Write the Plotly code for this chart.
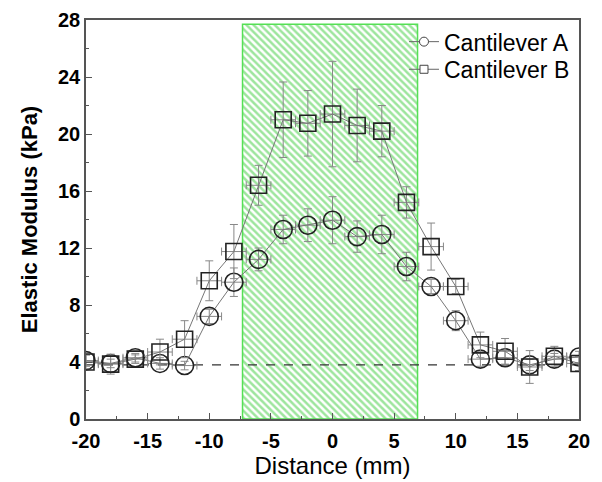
import plotly.graph_objects as go

distance = [-20, -18, -16, -14, -12, -10, -8, -6, -4, -2, 0, 2, 4, 6, 8, 10, 12, 14, 16, 18, 20]
mod_a = [4.1, 3.9, 4.3, 3.9, 3.75, 7.2, 9.6, 11.2, 13.3, 13.6, 13.95, 12.8, 12.95, 10.7, 9.3, 6.9, 4.2, 4.3, 3.8, 4.2, 4.35]
err_a = [0.4, 0.3, 0.3, 0.4, 0.3, 0.5, 1.0, 0.8, 1.0, 1.15, 1.65, 1.1, 1.35, 1.0, 0.5, 0.7, 0.5, 0.5, 0.4, 0.4, 0.4]
mod_b = [4.0, 3.85, 4.2, 4.7, 5.6, 9.7, 11.75, 16.4, 21.0, 20.75, 21.4, 20.6, 20.2, 15.2, 12.1, 9.3, 5.2, 4.75, 3.65, 4.4, 3.9]
err_b = [0.5, 0.7, 0.3, 0.9, 1.3, 1.4, 1.9, 1.4, 2.65, 2.3, 3.7, 2.55, 1.8, 1.1, 1.65, 0.5, 0.9, 0.9, 1.15, 0.7, 0.5]
err_x = [1.0] * len(distance)

region_x = [-7.3, 6.9]
region_top = 27.7
baseline = 3.8

x_ticks = [-20, -15, -10, -5, 0, 5, 10, 15, 20]
x_labels = ["-20", "-15", "-10", "-5", "0", "5", "10", "15", "20"]
y_ticks = [0, 4, 8, 12, 16, 20, 24, 28]
y_labels = ["0", "4", "8", "12", "16", "20", "24", "28"]

FONT = "Liberation Sans, Arial"

fig = go.Figure()

fig.add_trace(go.Scatter(
    x=[region_x[0], region_x[1], region_x[1], region_x[0], region_x[0]],
    y=[0, 0, region_top, region_top, 0],
    mode="lines", fill="toself",
    line=dict(color="#55e055", width=1.5),
    fillcolor="rgba(0,0,0,0)",
    fillpattern=dict(shape="\\", fgcolor="#3ccc3c", bgcolor="white", size=5, solidity=0.5),
    showlegend=False, hoverinfo="skip"))

fig.add_trace(go.Scatter(
    x=[distance[0], distance[-1]], y=[baseline, baseline],
    mode="lines", line=dict(color="#333333", width=1.2, dash="dash"),
    showlegend=False, hoverinfo="skip"))

common_err = dict(type="data", color="#888888", thickness=1, width=4)

fig.add_trace(go.Scatter(
    x=distance, y=mod_a, name="Cantilever A", mode="lines+markers",
    line=dict(color="#777777", width=1),
    marker=dict(symbol="circle-open", size=18, color="#222222", line=dict(width=1.6)),
    error_y=dict(array=err_a, **common_err),
    error_x=dict(array=err_x, **common_err),
    showlegend=False))

fig.add_trace(go.Scatter(
    x=distance, y=mod_b, name="Cantilever B", mode="lines+markers",
    line=dict(color="#777777", width=1),
    marker=dict(symbol="square-open", size=16, color="#222222", line=dict(width=1.6)),
    error_y=dict(array=err_b, **common_err),
    error_x=dict(array=err_x, **common_err),
    showlegend=False))

# legend entries (small symbols as in the reference), each in its own legend box
fig.add_trace(go.Scatter(
    x=[None], y=[None], name="Cantilever A", mode="lines+markers", legend="legend",
    line=dict(color="#666666", width=1),
    marker=dict(symbol="circle", size=9, color="white", line=dict(width=1, color="#444444"))))
fig.add_trace(go.Scatter(
    x=[None], y=[None], name="Cantilever B", mode="lines+markers", legend="legend2",
    line=dict(color="#666666", width=1),
    marker=dict(symbol="square", size=8, color="white", line=dict(width=1, color="#444444"))))

axis_common = dict(
    showline=True, linecolor="#555555", linewidth=1.5, mirror=True,
    showgrid=False, zeroline=False, automargin=False,
    ticks="inside", ticklen=6, tickcolor="#555555", tickwidth=1.2,
    tickfont=dict(family=FONT, size=20, color="black", weight="bold"),
)

fig.update_xaxes(range=[-20, 20], tickvals=x_ticks, ticktext=x_labels,
                 ticklabelstandoff=3,
                 minor=dict(ticks="inside", ticklen=3, dtick=2.5, tickcolor="#555555"),
                 title=dict(text="Distance (mm)", standoff=6,
                            font=dict(family=FONT, size=24, color="black")),
                 **axis_common)
fig.update_yaxes(range=[0, 28], tickvals=y_ticks, ticktext=y_labels,
                 minor=dict(ticks="inside", ticklen=3, dtick=2, tickcolor="#555555"),
                 title=dict(text="Elastic Modulus (kPa)", standoff=14,
                            font=dict(family=FONT, size=22, color="black", weight="bold")),
                 **axis_common)

legend_common = dict(xanchor="left", yanchor="middle", bgcolor="rgba(0,0,0,0)",
                     font=dict(family=FONT, size=23, color="black"), tracegroupgap=0)

fig.update_layout(
    width=602, height=482,
    margin=dict(l=86, r=23, t=20, b=63),
    paper_bgcolor="white", plot_bgcolor="white",
    legend=dict(x=0.645, y=0.9456, **legend_common),
    legend2=dict(x=0.645, y=0.8764, **legend_common),
    showlegend=True,
)

fig.write_html("out.html")
